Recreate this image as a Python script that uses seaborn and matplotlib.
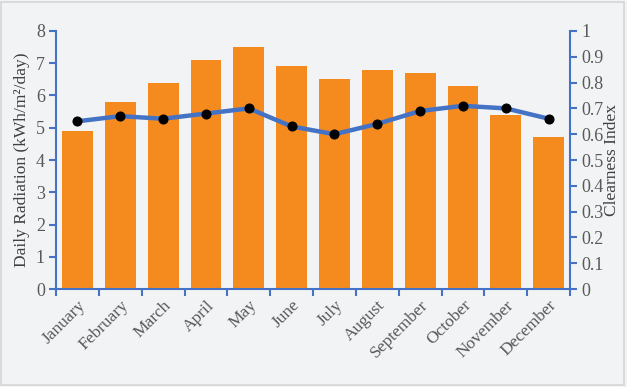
import pandas as pd
import matplotlib
matplotlib.use("Agg")
import matplotlib.pyplot as plt
import seaborn as sns
from matplotlib.ticker import FixedLocator

# data
months = ['January', 'February', 'March', 'April', 'May', 'June', 'July',
          'August', 'September', 'October', 'November', 'December']
radiation = [4.9, 5.8, 6.4, 7.1, 7.5, 6.9, 6.5, 6.8, 6.7, 6.3, 5.4, 4.7]
clearness = [0.65, 0.67, 0.66, 0.68, 0.70, 0.63, 0.60, 0.64, 0.69, 0.71, 0.70, 0.66]

df = pd.DataFrame({'Month': months, 'Radiation': radiation, 'Clearness': clearness})

sns.set_style('white')
plt.rcParams['font.family'] = ['Liberation Serif', 'DejaVu Serif']

bg = '#f2f3f5'
blue = '#4472c4'
tick_col = '#595959'

fig = plt.figure(figsize=(6.27, 3.87), dpi=100, facecolor=bg)
fig.patches.append(plt.Rectangle((0.002, 0.004), 0.994, 0.99, transform=fig.transFigure,
                                 fill=False, edgecolor='#d6d6d6', linewidth=1.2))
ax = fig.add_axes([0.0893, 0.253, 0.82, 0.667])
ax.set_facecolor(bg)

sns.barplot(data=df, x='Month', y='Radiation', color='#f58b1f', saturation=1,
            width=0.72, linewidth=0, ax=ax)
ax.set_ylim(0, 8)
ax.set_xlim(-0.5, 11.5)
ax.set_xlabel('')
ax.set_ylabel('Daily Radiation (kWh/m²/day)', fontsize=12.5, color='#404040', labelpad=4)

ax2 = ax.twinx()
sns.lineplot(x=list(range(12)), y=df['Clearness'], ax=ax2, color=blue, linewidth=3.2,
             marker='o', markersize=6.5, markerfacecolor='black', markeredgecolor='black')
ax2.set_ylim(0, 1)
ax2.set_yticks([i / 10 for i in range(11)])
ax2.set_yticklabels(['0', '0.1', '0.2', '0.3', '0.4', '0.5', '0.6', '0.7', '0.8', '0.9', '1'])
ax2.set_ylabel('Clearness Index', fontsize=12.5, color='#404040', labelpad=0)

for a in (ax, ax2):
    for s in a.spines.values():
        s.set_visible(False)
ax.spines['left'].set_visible(True)
ax.spines['bottom'].set_visible(True)
ax2.spines['right'].set_visible(True)
for s in (ax.spines['left'], ax.spines['bottom'], ax2.spines['right']):
    s.set_color(blue)
    s.set_linewidth(1.5)

ax.set_yticks(range(9))
ax.tick_params(axis='y', direction='out', length=5, width=1.5, color=blue,
               labelsize=13, labelcolor=tick_col, left=True, pad=3)
ax2.tick_params(axis='y', direction='out', length=5, width=1.5, color=blue,
                labelsize=13, labelcolor=tick_col, right=True, pad=3)

# category boundary ticks on x axis
ax.xaxis.set_minor_locator(FixedLocator([i - 0.5 for i in range(13)]))
ax.tick_params(axis='x', which='minor', direction='out', length=5, width=1.5,
               color=blue, bottom=True)
ax.tick_params(axis='x', which='major', length=0, labelsize=12.5, labelcolor=tick_col, pad=6)
plt.setp(ax.get_xticklabels(), rotation=45, ha='right', rotation_mode='anchor')

fig.savefig('out.png', dpi=100, facecolor=bg)
